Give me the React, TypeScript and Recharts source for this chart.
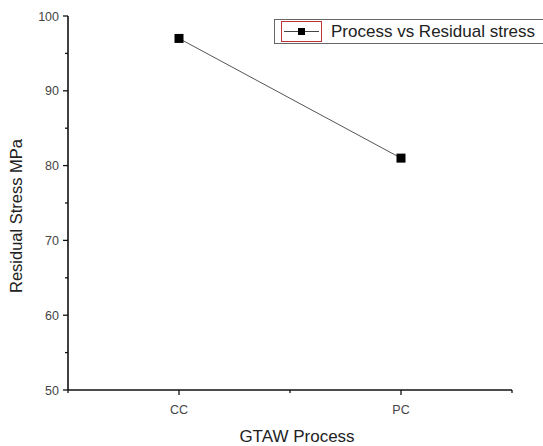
import React from "react"
import { LineChart, Line, XAxis, YAxis, Label } from "recharts"

const categories = ["CC", "PC"]
const stressValues = [97, 81]
const yTicks = [50, 55, 60, 65, 70, 75, 80, 85, 90, 95, 100]
const xTicks = [0.5, 1, 1.5, 2, 2.5]
const seriesName = "Process vs Residual stress"

const data = categories.map((c, i) => ({ pos: i + 1, process: c, stress: stressValues[i] }))

const FONT = "'Liberation Sans', Arial, sans-serif"

function YTick(props: any) {
  const { x, y, payload } = props
  const major = payload.value % 10 === 0
  return (
    <g>
      <line x1={x - (major ? 5 : 3)} y1={y} x2={x} y2={y} stroke="#111" strokeWidth={1.3} />
      {major && (
        <text x={x - 9} y={y} dy={4.5} textAnchor="end" fontSize={12.5} fill="#444" fontFamily={FONT}>
          {payload.value}
        </text>
      )}
    </g>
  )
}

function XTick(props: any) {
  const { x, y, payload } = props
  const idx = categories.findIndex((_, i) => i + 1 === payload.value)
  const major = idx >= 0
  return (
    <g>
      <line x1={x} y1={y} x2={x} y2={y + (major ? 5 : 3)} stroke="#111" strokeWidth={1.3} />
      {major && (
        <text x={x} y={y + 24} textAnchor="middle" fontSize={12.5} fill="#444" fontFamily={FONT}>
          {categories[idx]}
        </text>
      )}
    </g>
  )
}

function SquareDot(props: any) {
  const { cx, cy } = props
  return <rect x={cx - 4.5} y={cy - 4.5} width={9} height={9} fill="#000" />
}

function LegendBox() {
  return (
    <div
      style={{
        position: "absolute",
        left: 274,
        top: 19,
        display: "flex",
        alignItems: "center",
        border: "1px solid #666",
        borderRight: "none",
        height: 23,
        width: 280,
        background: "#fff",
        fontFamily: FONT,
        overflow: "hidden",
      }}
    >
      <svg width={42} height={23} style={{ marginLeft: 6, flexShrink: 0 }}>
        <rect x={0.5} y={1.5} width={40} height={20} fill="none" stroke="#b33" strokeWidth={1} />
        <line x1={3} y1={11.5} x2={38} y2={11.5} stroke="#444" strokeWidth={1} />
        <rect x={17} y={8} width={7} height={7} fill="#000" />
      </svg>
      <span style={{ marginLeft: 8, fontSize: 17, color: "#222", whiteSpace: "nowrap" }}>
        {seriesName}
      </span>
    </div>
  )
}

export default function App() {
  return (
    <div style={{ position: "absolute", left: 0, top: 0, width: 543, height: 446, background: "#fff", overflow: "hidden" }}>
      <LineChart width={543} height={446} data={data} margin={{ top: 16, right: 31, bottom: 0, left: 20 }}>
        <XAxis
          dataKey="pos"
          type="number"
          domain={[0.5, 2.5]}
          ticks={xTicks}
          tick={<XTick />}
          tickSize={0}
          tickMargin={0}
          tickLine={false}
          axisLine={{ stroke: "#111", strokeWidth: 1.6 }}
          height={56}
          interval={0}
        >
          <Label
            content={() => (
              <text x={297} y={442} textAnchor="middle" fill="#222" fontSize={17} fontFamily={FONT}>
                GTAW Process
              </text>
            )}
          />
        </XAxis>
        <YAxis
          type="number"
          domain={[50, 100]}
          ticks={yTicks}
          tick={<YTick />}
          tickSize={0}
          tickMargin={0}
          tickLine={false}
          axisLine={{ stroke: "#111", strokeWidth: 1.6 }}
          width={48}
          interval={0}
        >
          <Label
            content={() => (
              <text
                x={22}
                y={216}
                transform="rotate(-90 22 216)"
                textAnchor="middle"
                fill="#222"
                fontSize={16.5}
                fontFamily={FONT}
              >
                Residual Stress MPa
              </text>
            )}
          />
        </YAxis>
        <Line
          name={seriesName}
          dataKey="stress"
          stroke="#555"
          strokeWidth={1}
          dot={<SquareDot />}
          activeDot={false}
          isAnimationActive={false}
        />
      </LineChart>
      <LegendBox />
    </div>
  )
}
